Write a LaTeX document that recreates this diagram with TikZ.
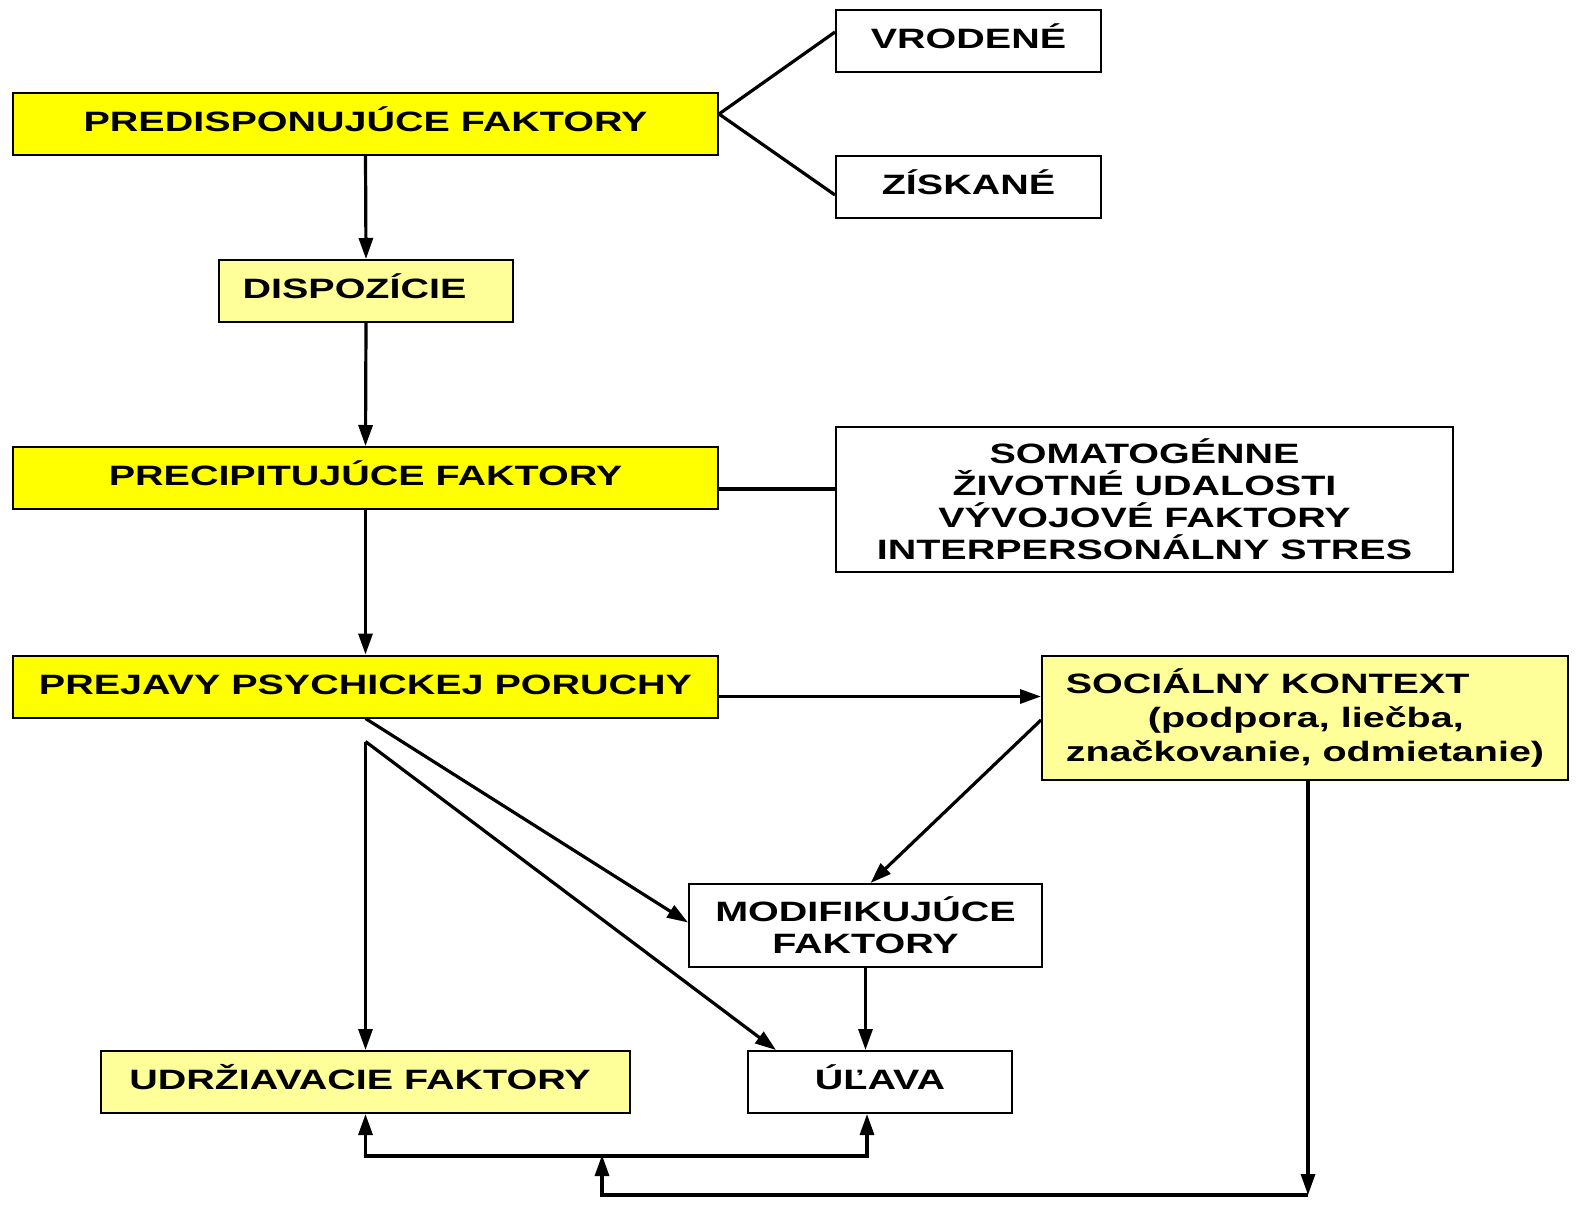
\documentclass[tikz,border=0pt]{standalone}
\usepackage{fontspec}
\setmainfont[FakeStretch=1.41]{Liberation Sans}
\usetikzlibrary{positioning}
\usetikzlibrary{calc}
\usetikzlibrary{arrows.meta}
\definecolor{strongyellow}{RGB}{255,255,0}
\definecolor{paleyellow}{RGB}{255,255,153}
\tikzset{
	box/.style={draw,line width=2pt,rectangle,inner sep=0pt,fill=white,font=\fontsize{28pt}{32pt}\selectfont\bfseries},
	oneline/.style={text height=20pt,text depth=5pt},
	factor/.style={box,oneline,fill=strongyellow,minimum width=705pt,minimum height=62pt},
}

\begin{document}
\begin{tikzpicture}[x=1pt,y=-1pt,line width=3.2pt,>={Triangle[length=21pt,width=14pt]}]
		\useasboundingbox (0,0) rectangle (1578,1205);
		\node[factor] (pred) at (365.5,124) {PREDISPONUJÚCE FAKTORY};
		\node[box,oneline,minimum width=265pt,minimum height=62pt] (vrod) at (968.5,41) {VRODENÉ};
		\node[box,oneline,minimum width=265pt,minimum height=62pt] (zisk) at (968.5,187) {ZÍSKANÉ};
		\node[box,oneline,fill=paleyellow,minimum width=294pt,minimum height=62pt] (disp) at (366,291) {DISPOZÍCIE\hspace*{23pt}};
		\node[factor] (prec) at (365.5,478) {PRECIPITUJÚCE FAKTORY};
		\node[box,align=center,minimum width=617pt,minimum height=145pt] (soma) at (1144.5,499.5) {SOMATOGÉNNE\\ŽIVOTNÉ UDALOSTI\\VÝVOJOVÉ FAKTORY\\INTERPERSONÁLNY STRES};
		\node[factor] (prej) at (365.5,686.5) {PREJAVY PSYCHICKEJ PORUCHY};
		\node[box,align=left,fill=paleyellow,minimum width=526pt,minimum height=124pt,font=\fontsize{28pt}{34pt}\selectfont\bfseries] (soc) at (1305,718) {SOCIÁLNY KONTEXT\\\hspace*{82pt}(podpora, liečba,\\značkovanie, odmietanie)};
		\node[box,align=center,minimum width=353pt,minimum height=83pt] (modif) at (865.5,925.5) {MODIFIKUJÚCE\\FAKTORY};
		\node[box,oneline,fill=paleyellow,minimum width=529pt,minimum height=62pt] (udrz) at (365.5,1082) {UDRŽIAVACIE FAKTORY\hspace*{11pt}};
		\node[box,oneline,minimum width=264pt,minimum height=62pt] (ulava) at (880,1082) {ÚĽAVA};
		\coordinate (fork) at ([yshift=10pt]pred.east);
		\coordinate (split) at ([yshift=-23pt]prej.south);
		\coordinate (corner) at ([xshift=3pt]soc.south |- 0,1195);
		\coordinate (join) at (602,1155);
		\draw (fork) -- ([yshift=9pt]vrod.west);
		\draw (fork) -- ([yshift=-8pt]zisk.west);
		\draw[->] (pred.south) -- (disp.north);
		\draw[->] (disp.south) -- (prec.north);
		\draw ([yshift=-11pt]prec.east) -- ([yshift=-11pt]prec.east -| soma.west);
		\draw[->] (prec.south) -- (prej.north);
		\draw[->] ([yshift=-10pt]prej.east) -- ([yshift=-10pt]prej.east -| soc.west);
		\draw[->] ([yshift=-2pt]soc.west) -- ([xshift=5pt]modif.north);
		\draw[->] (prej.south) -- ([yshift=3pt]modif.west);
		\draw[->] (split) -- (udrz.north);
		\draw[->] (split) -- ([xshift=29pt]ulava.north west);
		\draw[->] (modif.south) -- (modif.south |- ulava.north);
		\draw[<->] (udrz.south) -- ++(0,42) -| ([xshift=-13pt]ulava.south);
		\draw[->] ([xshift=3pt]soc.south) -- (corner);
		\draw[->] (corner) -| (join);
	\end{tikzpicture}
\end{document}
